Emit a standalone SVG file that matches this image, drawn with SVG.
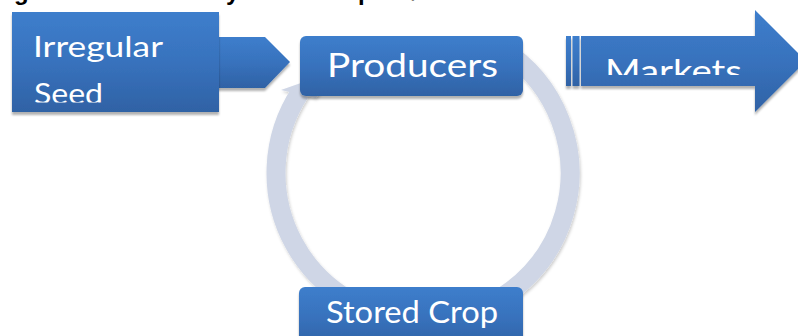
<svg xmlns="http://www.w3.org/2000/svg" width="798" height="336" viewBox="0 0 798 336">
  <style>
    .lbl { font-family: Lato, "Open Sans", "Liberation Sans", sans-serif; fill: #ffffff; }
    .head { font-family: "Liberation Sans", Arial, sans-serif; font-weight: bold; font-size: 24px; fill: #000000; }
    .box { fill: url(#blue); filter: url(#shadow); }
    .ring { fill: none; stroke: #CFD6E6; stroke-width: 19; }
  </style>
  <defs>
    <linearGradient id="blue" x1="0" y1="0" x2="0" y2="1">
      <stop offset="0" stop-color="#3D7ECC"/>
      <stop offset="0.5" stop-color="#3872BD"/>
      <stop offset="1" stop-color="#2F62A5"/>
    </linearGradient>
    <filter id="shadow" x="-10%" y="-10%" width="120%" height="130%">
      <feDropShadow dx="0" dy="3" stdDeviation="1.2" flood-color="#000" flood-opacity="0.3"/>
    </filter>
    <filter id="ringShadow" x="-10%" y="-10%" width="120%" height="120%">
      <feDropShadow dx="1" dy="2" stdDeviation="1.5" flood-color="#000" flood-opacity="0.2"/>
    </filter>
    <clipPath id="clipSeed"><rect x="0" y="0" width="300" height="102.5"/></clipPath>
    <clipPath id="clipMarkets"><rect x="560" y="0" width="238" height="75"/></clipPath>
  </defs>

  <!-- clipped heading fragments -->
  <text class="head" y="0"><tspan x="14">g</tspan><tspan x="226">y</tspan><tspan x="358">p</tspan><tspan x="410" dy="-3">,</tspan></text>

  <!-- connectors: circular arrows -->
  <g id="connectors" filter="url(#ringShadow)">
    <path class="ring" d="M500.9,48.3 A147,147 0 0 1 423,320"/>
    <path class="ring" d="M423,320 A147,147 0 0 1 300.2,92.2"/>
    <polygon points="281,90 335,71 316,98" fill="#CFD6E6"/>
  </g>

  <g id="irregular-seed">
    <polygon class="box" points="150,37 265,37 290,62 265,88 150,88"/>
    <rect class="box" x="12" y="12" width="207" height="100"/>
    <g clip-path="url(#clipSeed)">
      <text class="lbl" x="33" y="57" font-size="28" textLength="130" lengthAdjust="spacingAndGlyphs">Irregular</text>
      <text class="lbl" x="34" y="104" font-size="28" textLength="69" lengthAdjust="spacingAndGlyphs">Seed</text>
    </g>
  </g>

  <g id="producers">
    <rect class="box" x="300" y="36" width="223" height="60" rx="6"/>
    <text class="lbl" x="327" y="77" font-size="32.5" textLength="171" lengthAdjust="spacingAndGlyphs">Producers</text>
  </g>

  <g id="markets">
    <g filter="url(#shadow)" fill="url(#blue)">
      <rect x="566" y="36" width="5" height="50"/>
      <rect x="572.5" y="36" width="7" height="50"/>
      <polygon points="581,36 755,36 755,10 806,61 755,112 755,86 581,86"/>
    </g>
    <g clip-path="url(#clipMarkets)">
      <text class="lbl" x="605" y="83" font-size="32" textLength="137" lengthAdjust="spacingAndGlyphs">Markets</text>
    </g>
  </g>

  <g id="stored-crop">
    <rect class="box" x="299" y="287" width="224" height="60" rx="6"/>
    <text class="lbl" x="326" y="323" font-size="30" textLength="172" lengthAdjust="spacingAndGlyphs">Stored Crop</text>
  </g>
</svg>
